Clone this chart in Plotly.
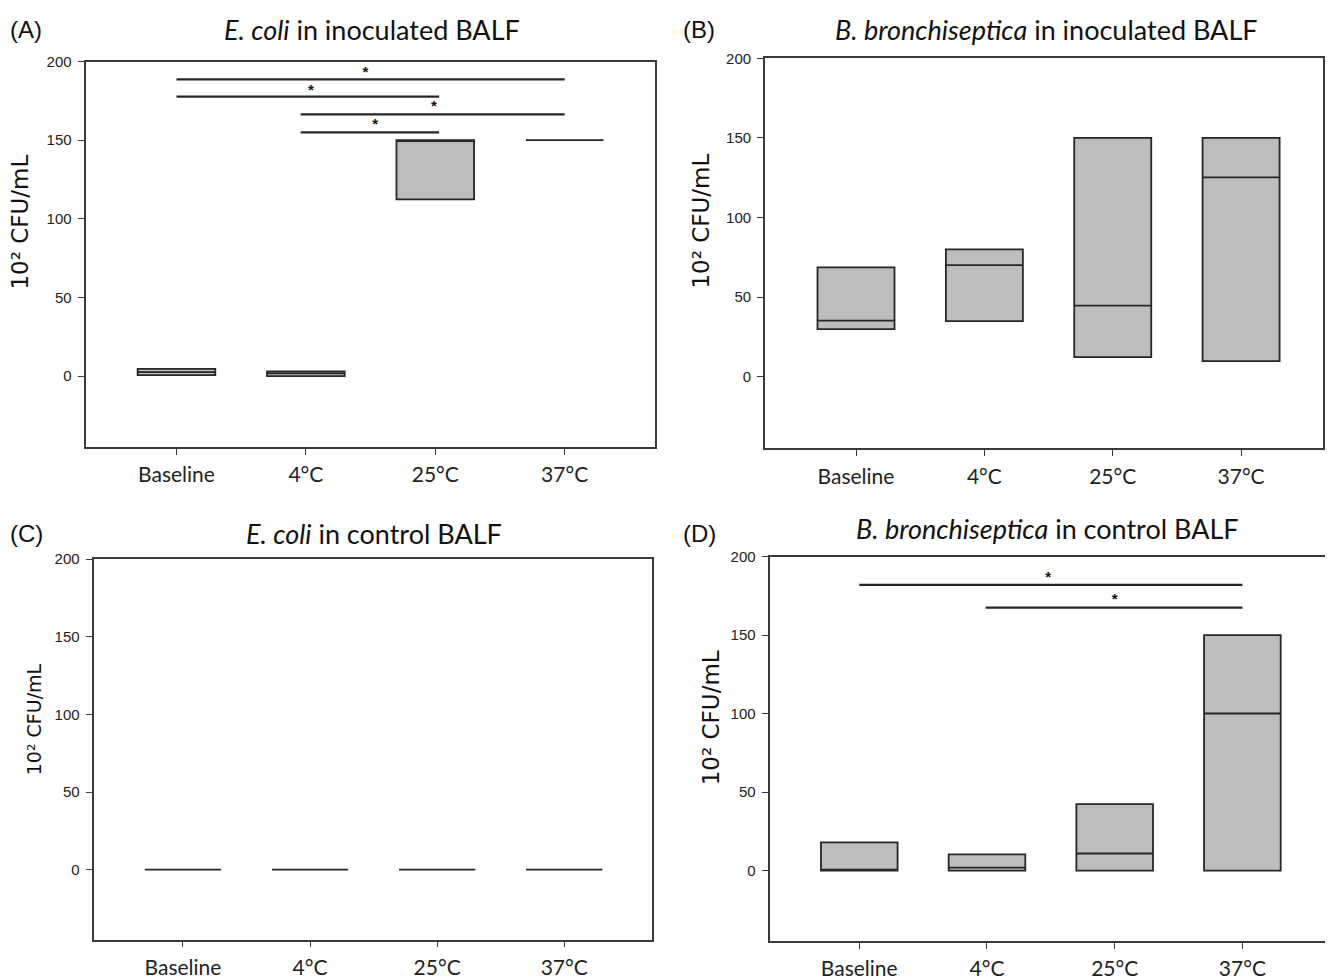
import plotly.graph_objects as go

# The page body has an 8 px default margin; the figure starts at (8, 8).
OFF = 8
FW, FH = 1333 - OFF, 980 - OFF

categories = ["Baseline", "4°C", "25°C", "37°C"]
cat_pos = [0, 1, 2, 3]
y_ticks = [0, 50, 100, 150, 200]

# Panel A: E. coli in inoculated BALF
a_q1 = [0.6, 0.0, 112.3, 150.0]
a_med = [2.5, 1.7, 150.0, 150.0]
a_q3 = [4.5, 3.0, 150.0, 150.0]
a_sig_start = [0, 0, 0.96, 0.96]
a_sig_end = [3, 2.03, 3, 2.03]
a_sig_y = [188.7, 177.7, 166.4, 154.9]
a_ast_x = [1.46, 1.04, 1.99, 1.535]
a_ast_y = [192.5, 181.2, 170.8, 159.3]

# Panel B: B. bronchiseptica in inoculated BALF
b_q1 = [29.9, 35.0, 12.4, 9.9]
b_med = [35.3, 70.1, 44.7, 125.2]
b_q3 = [68.7, 80.0, 150.0, 150.0]

# Panel C: E. coli in control BALF
c_q1 = [0.0, 0.0, 0.0, 0.0]
c_med = [0.0, 0.0, 0.0, 0.0]
c_q3 = [0.0, 0.0, 0.0, 0.0]

# Panel D: B. bronchiseptica in control BALF
d_q1 = [0.0, 0.0, 0.0, 0.0]
d_med = [0.0, 1.9, 10.9, 100.1]
d_q3 = [18.0, 10.4, 42.4, 150.0]
d_sig_start = [0, 0.99]
d_sig_end = [3, 3]
d_sig_y = [182.0, 167.6]
d_ast_x = [1.48, 2.0]
d_ast_y = [186.4, 172.2]

titles = [
    "<i>E. coli</i> in inoculated BALF",
    "<i>B. bronchiseptica</i> in inoculated BALF",
    "<i>E. coli</i> in control BALF",
    "<i>B. bronchiseptica</i> in control BALF",
]
panel_labels = ["(A)", "(B)", "(C)", "(D)"]
y_title = "10² CFU/mL"

BOX_FILL = "#bdbdbd"
LINE = "#262626"
FRAME = "#3a3a3a"

fig = go.Figure()

def add_boxes(q1, med, q3, ax):
    fig.add_trace(go.Box(
        x=cat_pos, q1=q1, median=med, q3=q3,
        lowerfence=q1, upperfence=q3,
        width=0.6, fillcolor=BOX_FILL,
        line=dict(color=LINE, width=1.8),
        whiskerwidth=0, boxpoints=False, showlegend=False,
        xaxis="x" + ax, yaxis="y" + ax, hoverinfo="skip",
    ))

def add_sig(starts, ends, ys, ast_x, ast_y, ax):
    for s, e, y in zip(starts, ends, ys):
        fig.add_trace(go.Scatter(
            x=[s, e], y=[y, y], mode="lines",
            line=dict(color=LINE, width=2.2), showlegend=False,
            xaxis="x" + ax, yaxis="y" + ax, hoverinfo="skip",
        ))
    fig.add_trace(go.Scatter(
        x=ast_x, y=ast_y, mode="text", text=["<b>*</b>"] * len(ast_x),
        textposition="middle center",
        textfont=dict(family="Liberation Sans", size=15, color="#111"),
        showlegend=False, xaxis="x" + ax, yaxis="y" + ax, hoverinfo="skip",
    ))

add_boxes(a_q1, a_med, a_q3, "")
add_sig(a_sig_start, a_sig_end, a_sig_y, a_ast_x, a_ast_y, "")
add_boxes(b_q1, b_med, b_q3, "2")
add_boxes(c_q1, c_med, c_q3, "3")
add_boxes(d_q1, d_med, d_q3, "4")
add_sig(d_sig_start, d_sig_end, d_sig_y, d_ast_x, d_ast_y, "4")

# panel boxes in page pixels: left, right, top, bottom, x range
panels = [
    (85.5, 654.6, 53.3, 445.0, [-0.703, 3.695]),
    (765.0, 1323.0, 50.0, 446.7, [-0.709, 3.638]),
    (93.5, 652.4, 559.3, 946.0, [-0.704, 3.694]),
    (769.5, 1325.0, 556.7, 947.7, [-0.703, 3.647]),
]

def px(X):
    return (X - OFF) / FW

def py(Y):
    return 1 - (Y - OFF) / FH

layout = dict(
    width=FW, height=FH, margin=dict(l=0, r=0, t=0, b=0),
    paper_bgcolor="white", plot_bgcolor="white",
    showlegend=False,
)

annotations = []
for i, (l, r, t, b, xr) in enumerate(panels):
    sfx = "" if i == 0 else str(i + 1)
    layout["xaxis" + sfx] = dict(
        domain=[px(l), px(r)], range=xr, anchor="y" + sfx,
        tickmode="array", tickvals=cat_pos, ticktext=categories,
        ticks="outside", ticklen=6, tickwidth=1.4, tickcolor=FRAME,
        showline=True, linecolor=FRAME, linewidth=1.7, mirror=True,
        showgrid=False, zeroline=False,
        tickfont=dict(family="Lato", size=21, color="#222"),
        ticklabelstandoff=2,
    )
    layout["yaxis" + sfx] = dict(
        domain=[py(b), py(t)], range=[-45, 200], anchor="x" + sfx,
        tickmode="array", tickvals=y_ticks,
        ticks="outside", ticklen=6, tickwidth=1.4, tickcolor=FRAME,
        showline=True, linecolor=FRAME, linewidth=1.7, mirror=True,
        showgrid=False, zeroline=False,
        tickfont=dict(family="Liberation Sans", size=15, color="#222"),
        ticklabelstandoff=3,
    )

# titles, panel labels, y titles (page pixel positions)
title_pos = [(372, 21), (1046, 21), (374, 533), (1047, 528)]
label_pos = [(8, 21), (681, 21), (8, 533), (681, 533)]
ytitle_pos = [(20, 217, 23), (701, 216, 23), (34, 722, 19), (711, 721, 23)]

for i in range(4):
    tx, ty = title_pos[i]
    annotations.append(dict(
        x=px(tx), y=py(ty), xref="paper", yref="paper",
        text=titles[i], showarrow=False, xanchor="center", yanchor="middle",
        font=dict(family="Lato", size=27, color="#111"),
    ))
    lx, ly = label_pos[i]
    annotations.append(dict(
        x=px(lx), y=py(ly), xref="paper", yref="paper",
        text=panel_labels[i], showarrow=False, xanchor="left", yanchor="middle",
        font=dict(family="Liberation Sans", size=24, color="#111"),
    ))
    yx, yy, fs = ytitle_pos[i]
    annotations.append(dict(
        x=px(yx), y=py(yy), xref="paper", yref="paper",
        text=y_title, showarrow=False, xanchor="center", yanchor="middle",
        textangle=-90,
        font=dict(family="DejaVu Sans", size=fs, color="#111"),
    ))

layout["annotations"] = annotations
fig.update_layout(**layout)
fig.write_html("out.html")
